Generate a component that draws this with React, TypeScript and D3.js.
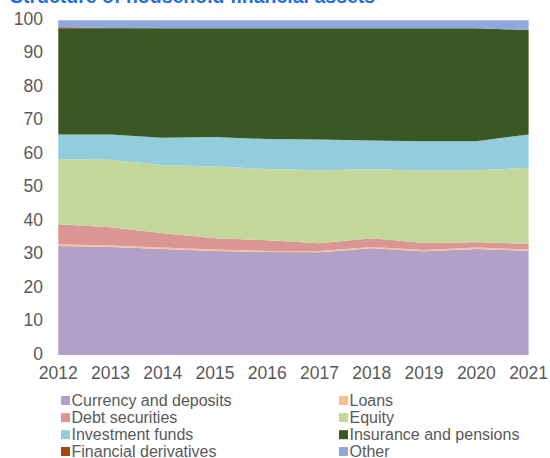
import React from "react";
import * as d3 from "d3";

const years = [2012, 2013, 2014, 2015, 2016, 2017, 2018, 2019, 2020, 2021];
const currency = [32.6, 32.3, 31.7, 31.1, 30.8, 30.7, 31.9, 31.0, 31.7, 31.1];
const loans = [0.5, 0.4, 0.4, 0.4, 0.3, 0.4, 0.4, 0.4, 0.4, 0.4];
const debt = [6.0, 5.5, 4.3, 3.4, 3.2, 2.3, 2.6, 2.1, 1.6, 1.7];
const equity = [19.4, 20.1, 20.4, 21.4, 21.3, 21.8, 20.6, 21.6, 21.5, 22.7];
const investment = [7.4, 7.6, 8.1, 8.8, 8.9, 9.2, 8.6, 8.8, 8.7, 10.0];
const insurance = [31.7, 31.7, 32.7, 32.5, 33.1, 33.2, 33.5, 33.7, 33.7, 31.2];
const derivatives = [0.3, 0.1, 0.0, 0.0, 0.0, 0.0, 0.0, 0.0, 0.0, 0.0];
const other = [2.1, 2.3, 2.4, 2.4, 2.4, 2.4, 2.4, 2.4, 2.4, 2.9];

const yTicks = [0, 10, 20, 30, 40, 50, 60, 70, 80, 90, 100];

const seriesNames = [
  "Currency and deposits",
  "Loans",
  "Debt securities",
  "Equity",
  "Investment funds",
  "Insurance and pensions",
  "Financial derivatives",
  "Other",
];
const seriesValues = [currency, loans, debt, equity, investment, insurance, derivatives, other];
const seriesColors = [
  "#B1A0C7",
  "#FABF8F",
  "#DA9694",
  "#C4D79B",
  "#92CDDC",
  "#3A5724",
  "#A3470F",
  "#8EA9DB",
];

const W = 550;
const H = 458;
const plot = { left: 58.3, right: 528.6, top: 20.3, bottom: 355 };
const font = "'Liberation Sans', Arial, sans-serif";

export default function App() {
  const rows = years.map((y, i) => {
    const r: Record<string, number> = { year: y };
    seriesNames.forEach((n, k) => (r[n] = seriesValues[k][i]));
    return r;
  });
  const stack = d3.stack<Record<string, number>>().keys(seriesNames);
  const layers = stack(rows);

  const x = d3.scaleLinear().domain([years[0], years[years.length - 1]]).range([plot.left, plot.right]);
  const y = d3.scaleLinear().domain([0, 100]).range([plot.bottom, plot.top]);

  const area = d3
    .area<d3.SeriesPoint<Record<string, number>>>()
    .x((d) => x(d.data.year))
    .y0((d) => y(d[0]))
    .y1((d) => y(d[1]));

  const legendRows = [400.5, 417.6, 434.7, 451.5];
  const legendCols = [61, 339];

  return (
    <svg
      width={W}
      height={H}
      style={{ position: "absolute", left: 0, top: 0, background: "#fff" }}
      fontFamily={font}
    >
      <text x={10} y={3} fontSize={19.5} fontWeight="bold" fill="#1F6FE8">
        Structure of household financial assets
      </text>
      {layers.map((layer, k) => (
        <path key={layer.key} d={area(layer) || ""} fill={seriesColors[k]} stroke="none" />
      ))}
      {yTicks.map((t) => (
        <text
          key={t}
          x={43}
          y={y(t) - 1.5}
          dy="0.35em"
          textAnchor="end"
          fontSize={17.5}
          fill="#595959"
        >
          {t}
        </text>
      ))}
      {years.map((yr) => (
        <text key={yr} x={x(yr)} y={378.5} textAnchor="middle" fontSize={17.5} fill="#595959">
          {yr}
        </text>
      ))}
      {seriesNames.map((n, k) => {
        const col = k % 2;
        const row = Math.floor(k / 2);
        const lx = legendCols[col];
        const ly = legendRows[row];
        return (
          <g key={n}>
            <rect x={lx} y={ly - 4.5} width={9} height={9} fill={seriesColors[k]} />
            <text x={lx + 10.5} y={ly} dy="0.35em" fontSize={16} fill="#595959">
              {n}
            </text>
          </g>
        );
      })}
    </svg>
  );
}
